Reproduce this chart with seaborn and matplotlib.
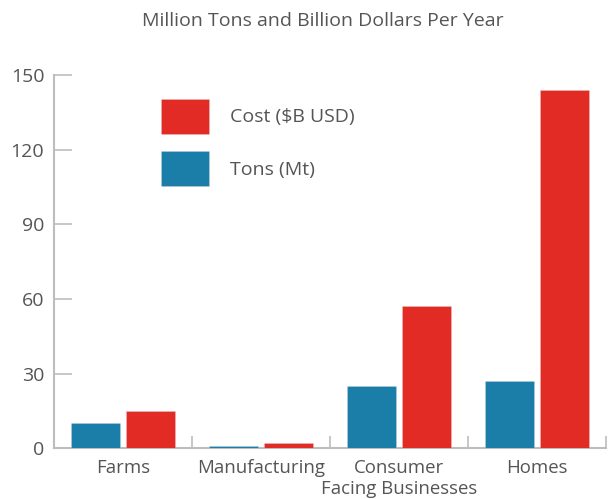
import matplotlib
matplotlib.use("Agg")
import matplotlib.pyplot as plt
import seaborn as sns
import pandas as pd
from matplotlib.ticker import FixedLocator

categories = ["Farms", "Manufacturing", "Consumer\nFacing Businesses", "Homes"]
tons_mt = [10, 1, 25, 27]
cost_busd = [15, 2, 57, 144]
series_names = ["Tons (Mt)", "Cost ($B USD)"]
series_colors = ["#1A7EA8", "#E32B26"]
y_ticks = [0, 30, 60, 90, 120, 150]
title = "Million Tons and Billion Dollars Per Year"

df = pd.DataFrame({
    "category": categories * 2,
    "series": [series_names[0]] * len(categories) + [series_names[1]] * len(categories),
    "value": tons_mt + cost_busd,
})

sns.set_theme(style="white")
plt.rcParams["font.family"] = ["Open Sans", "DejaVu Sans"]
text_color = "#555555"
axis_color = "#BDBDBD"
fs = 14

fig = plt.figure(figsize=(6.08, 4.99), dpi=100)
ax = fig.add_axes([54 / 608, 1 - 448.3 / 499, 552 / 608, (448.3 - 75) / 499])

sns.barplot(
    data=df, x="category", y="value", hue="series",
    hue_order=series_names, palette=series_colors, saturation=1,
    order=categories, width=0.796, gap=0.103,
    edgecolor=(0.85, 0.85, 0.85, 0.4), linewidth=0.5,
    ax=ax,
)
# keep the bars (even the very short ones) drawn on top of the axis line
for bar in ax.patches:
    bar.set_zorder(3)

ax.set_xlim(-0.5, len(categories) - 0.5)
ax.set_ylim(0, 150)
ax.set_yticks(y_ticks)
ax.set_xlabel("")
ax.set_ylabel("")

for side in ["top", "right"]:
    ax.spines[side].set_visible(False)
for side in ["left", "bottom"]:
    ax.spines[side].set_color(axis_color)
    ax.spines[side].set_linewidth(1.5)

ax.tick_params(axis="y", direction="in", length=13, width=1.2, color=axis_color,
               labelsize=fs, labelcolor=text_color, pad=7, left=True)
ax.tick_params(axis="x", which="major", length=0, labelsize=13.4,
               labelcolor=text_color, pad=8)
ax.xaxis.set_minor_locator(FixedLocator([i - 0.5 for i in range(len(categories) + 1)]))
ax.tick_params(axis="x", which="minor", direction="in", length=9, width=1.2,
               color=axis_color, bottom=True)
for lbl in ax.get_xticklabels():
    lbl.set_linespacing(1.2)
    lbl.set_verticalalignment("top")

handles, labels = ax.get_legend_handles_labels()
ax.legend(handles[::-1], labels[::-1], loc="upper left",
          bbox_to_anchor=(107 / 552, 1 - 23.5 / 373.3),
          frameon=False, fontsize=fs, labelcolor=text_color,
          handlelength=2.46, handleheight=2.45, labelspacing=0.85,
          handletextpad=1.1, borderaxespad=0, borderpad=0)

fig.text(323 / 608, 1 - 21 / 499, title, ha="center", va="center",
         fontsize=14, color=text_color)

fig.savefig("out.png", dpi=100)
